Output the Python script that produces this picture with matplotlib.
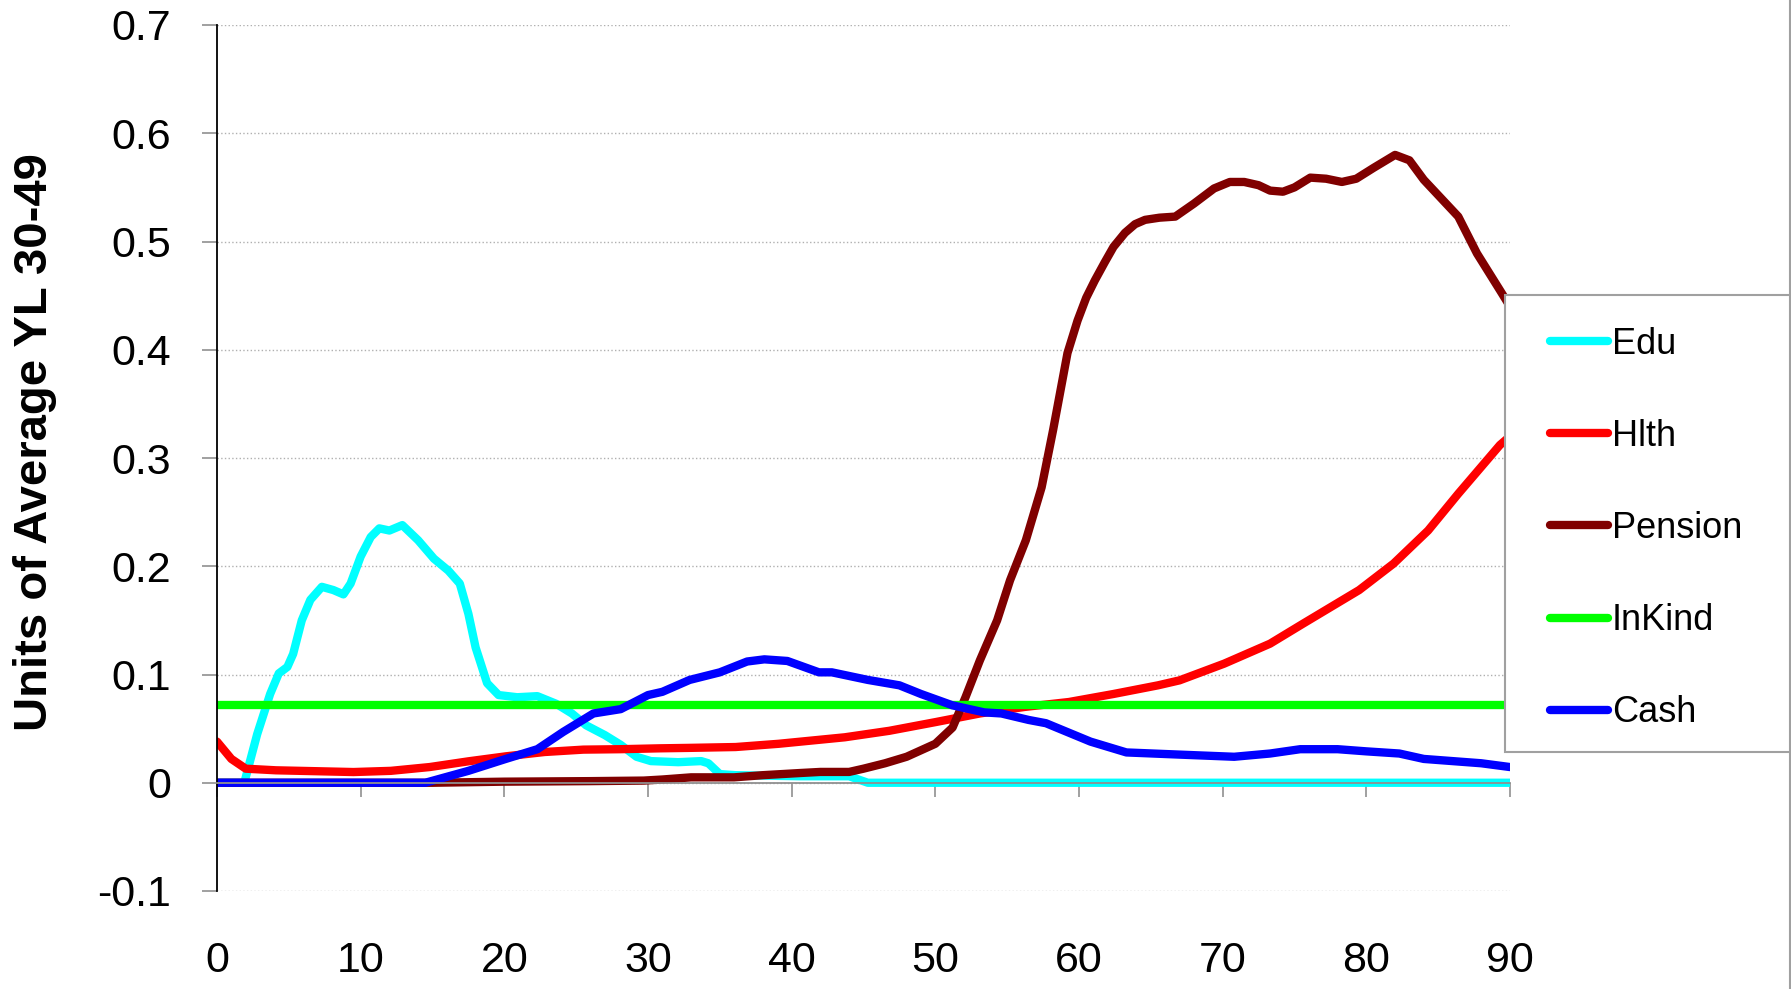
import numpy as np
import matplotlib
matplotlib.use("Agg")
import matplotlib.pyplot as plt
from matplotlib.lines import Line2D
from matplotlib.patches import Rectangle

plt.rcParams['font.family'] = ['Liberation Sans', 'DejaVu Sans']

# --- data (age, units of average YL 30-49) ---
edu_age = [0, 1.9, 2.8, 3.7, 4.3, 4.9, 5.3, 5.9, 6.5, 7.3, 8.1, 8.8, 9.3, 10.0, 10.7,
           11.3, 12.0, 12.9, 14.0, 15.1, 16.1, 16.9, 17.5, 18.0, 18.8, 19.6, 20.9,
           22.3, 23.6, 24.7, 25.7, 27.0, 28.1, 29.2, 30.2, 32.1, 33.7, 34.2, 35.0,
           36.1, 40.6, 44.0, 45.3, 90]
edu_val = [0, 0, 0.045, 0.082, 0.101, 0.107, 0.119, 0.150, 0.169, 0.181, 0.178, 0.174,
           0.184, 0.209, 0.227, 0.235, 0.233, 0.238, 0.224, 0.207, 0.196, 0.184, 0.156,
           0.125, 0.092, 0.081, 0.079, 0.080, 0.073, 0.064, 0.053, 0.044, 0.035, 0.024,
           0.020, 0.019, 0.020, 0.018, 0.008, 0.007, 0.006, 0.006, 0.0, 0.0]

hlth_age = [0, 1.0, 2.0, 4.1, 9.5, 12.1, 14.8, 17.5, 20.1, 22.8, 25.5, 28.1, 30.8,
            32.8, 36.1, 39.1, 43.7, 46.8, 50.0, 53.1, 56.2, 59.3, 62.4, 65.5, 67.0,
            70.1, 73.3, 75.6, 79.5, 81.9, 84.3, 86.4, 89.3, 90]
hlth_val = [0.038, 0.022, 0.013, 0.0115, 0.0099, 0.011, 0.0145, 0.0198, 0.0244, 0.0284,
            0.0306, 0.031, 0.0318, 0.0322, 0.033, 0.036, 0.042, 0.048, 0.056, 0.064,
            0.070, 0.0746, 0.082, 0.090, 0.0946, 0.110, 0.1285, 0.147, 0.178, 0.2025,
            0.233, 0.267, 0.312, 0.32]

pens_age = [0, 15, 20, 26, 29.7, 31, 33, 36, 38, 40.6, 42, 44, 45, 46.5, 48, 50, 51.2,
            52.1, 53.1, 54.3, 55.2, 56.3, 57.4, 58.2, 59.2, 59.9, 60.5, 61.1, 61.8,
            62.4, 63.2, 63.9, 64.6, 65.6, 66.7, 68.0, 69.4, 70.5, 71.5, 72.5, 73.3,
            74.2, 75.0, 76.1, 77.2, 78.3, 79.3, 80.5, 82.0, 83.0, 84.0, 85.2, 86.4,
            87.7, 89.3, 90]
pens_val = [0, 0, 0.001, 0.0015, 0.002, 0.003, 0.005, 0.005, 0.007, 0.009, 0.010, 0.010,
            0.013, 0.018, 0.024, 0.036, 0.051, 0.079, 0.113, 0.150, 0.187, 0.224, 0.273,
            0.326, 0.397, 0.427, 0.448, 0.464, 0.481, 0.495, 0.508, 0.516, 0.520, 0.522,
            0.523, 0.535, 0.549, 0.555, 0.555, 0.552, 0.547, 0.546, 0.550, 0.559, 0.558,
            0.555, 0.558, 0.568, 0.580, 0.575, 0.557, 0.540, 0.523, 0.489, 0.455, 0.44]

inkind_age = [0, 90]
inkind_val = [0.072, 0.072]

cash_age = [0, 14.5, 17.5, 20.1, 22.3, 24.1, 26.2, 28.1, 30.0, 31.0, 32.9, 35.0, 36.9,
            38.1, 39.7, 41.9, 42.8, 45.3, 47.5, 49.0, 51.2, 53.4, 54.6, 56.5, 57.7,
            60.8, 63.3, 67.0, 70.8, 73.3, 75.4, 78.0, 80.0, 82.3, 84.0, 86.0, 88.0, 90]
cash_val = [0, 0, 0.011, 0.022, 0.031, 0.047, 0.064, 0.068, 0.081, 0.084, 0.095, 0.102,
            0.112, 0.114, 0.1125, 0.102, 0.102, 0.095, 0.090, 0.082, 0.0715, 0.065,
            0.064, 0.058, 0.055, 0.038, 0.028, 0.026, 0.024, 0.027, 0.031, 0.031, 0.029,
            0.027, 0.022, 0.020, 0.018, 0.0145]

series = [
    ("Edu", edu_age, edu_val, "#00FFFF"),
    ("Hlth", hlth_age, hlth_val, "#FF0000"),
    ("Pension", pens_age, pens_val, "#800000"),
    ("InKind", inkind_age, inkind_val, "#00FF00"),
    ("Cash", cash_age, cash_val, "#0000FF"),
]
x_ticks = list(range(0, 91, 10))
y_ticks = [-0.1, 0, 0.1, 0.2, 0.3, 0.4, 0.5, 0.6, 0.7]
y_labels = ["-0.1", "0", "0.1", "0.2", "0.3", "0.4", "0.5", "0.6", "0.7"]

W, H = 1791, 989
fig = plt.figure(figsize=(W/100, H/100), dpi=100)
ax = fig.add_axes([217/W, 1-891/H, 1293/W, 866/H])

handles = []
for name, a, v, c in series:
    h, = ax.plot(a, v, color=c, lw=6.0, label=name, solid_capstyle='round',
                 solid_joinstyle='round')
    handles.append(h)

ax.set_xlim(0, 90)
ax.set_ylim(-0.1, 0.7)

# y axis
ax.set_yticks(y_ticks)
ax.set_yticklabels(y_labels)
ax.tick_params(axis='y', direction='out', length=11, width=1.2, color='#909090',
               labelsize=31, pad=22)
ax.spines['left'].set_color('black')
ax.spines['left'].set_linewidth(1.3)
ax.grid(axis='y', linestyle=':', color='#b0b0b0', lw=1.0)

# x axis crossing at 0, labels at the bottom
ax.spines['top'].set_visible(False)
ax.spines['right'].set_visible(False)
ax.spines['bottom'].set_position(('data', 0))
ax.spines['bottom'].set_color('#909090')
ax.spines['bottom'].set_linewidth(1.3)
ax.set_xticks(x_ticks)
ax.tick_params(axis='x', direction='out', length=10, width=1.2, color='#909090',
               labelbottom=False)
sec = ax.secondary_xaxis(0.0)
sec.set_xticks(x_ticks)
sec.set_xticklabels([str(t) for t in x_ticks])
sec.spines['bottom'].set_visible(False)
sec.tick_params(length=0, labelsize=31, pad=36)

ax.set_ylabel("Units of Average YL 30-49", fontsize=34, fontweight='bold')
ax.yaxis.set_label_coords((57-217)/1293, 0.5185)

# legend box drawn separately so the entries can sit where the original has them
fig.add_artist(Rectangle((1505/W, 1-752/H), (1790-1505)/W, (752-295)/H,
                         transform=fig.transFigure, facecolor='white',
                         edgecolor='#a0a0a0', lw=1.5, zorder=5))
leg = fig.legend(handles=handles, loc='upper left',
                 bbox_to_anchor=(1550/W, 1-327/H), borderaxespad=0, borderpad=0,
                 fontsize=26, handlelength=1.6, handletextpad=0.12,
                 labelspacing=1.58, frameon=False)
leg.set_zorder(6)

fig.add_artist(Line2D([1790/W, 1790/W], [0, 1], transform=fig.transFigure,
                      color='#a0a0a0', lw=1.5))

fig.savefig("out.png", dpi=100)
